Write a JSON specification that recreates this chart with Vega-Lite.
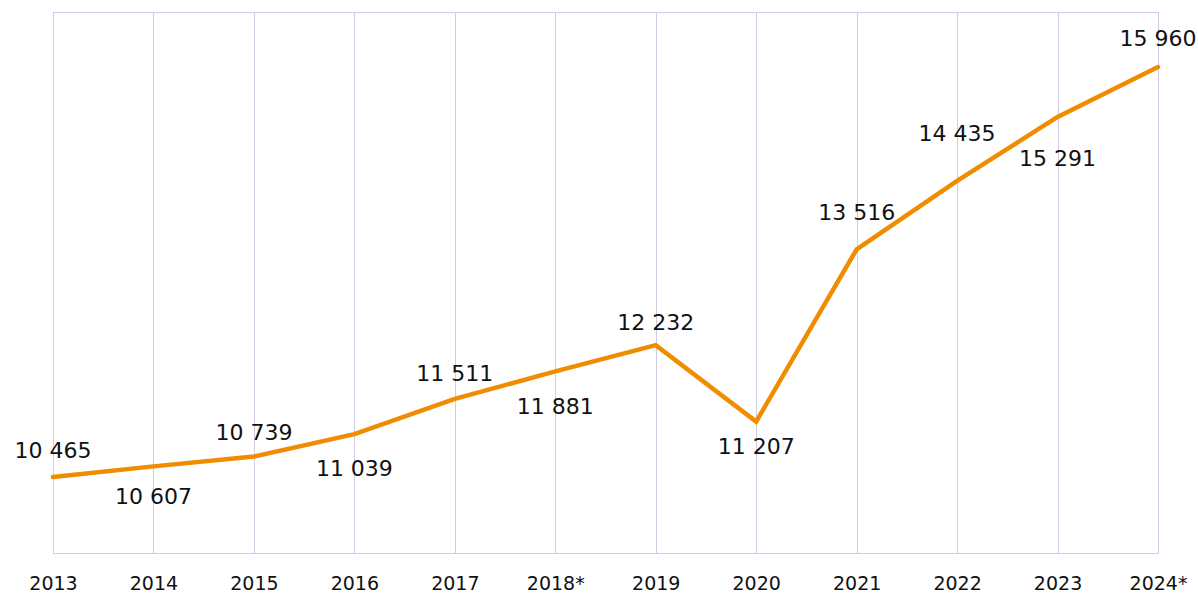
{
  "$schema": "https://vega.github.io/schema/vega-lite/v6.json",
  "width": 1105,
  "height": 541,
  "autosize": {"type": "none"},
  "padding": {"left": 53, "top": 12, "right": 40, "bottom": 42},
  "background": "#ffffff",
  "config": {
    "view": {"stroke": "#cfcbe6", "strokeWidth": 1},
    "font": "DejaVu Sans",
    "locale": {"number": {"decimal": ",", "thousands": " ", "grouping": [3], "currency": ["", ""]}}
  },
  "data": {
    "values": [
      {"year": "2013", "value": 10465},
      {"year": "2014", "value": 10607},
      {"year": "2015", "value": 10739},
      {"year": "2016", "value": 11039},
      {"year": "2017", "value": 11511},
      {"year": "2018*", "value": 11881},
      {"year": "2019", "value": 12232},
      {"year": "2020", "value": 11207},
      {"year": "2021", "value": 13516},
      {"year": "2022", "value": 14435},
      {"year": "2023", "value": 15291},
      {"year": "2024*", "value": 15960}
    ]
  },
  "encoding": {
    "x": {
      "field": "year",
      "type": "ordinal",
      "sort": null,
      "scale": {"type": "point", "padding": 0},
      "axis": {
        "title": null,
        "grid": true,
        "gridColor": "#cfcbe6",
        "gridWidth": 1,
        "domain": false,
        "ticks": false,
        "labelAngle": 0,
        "labelFontSize": 19,
        "labelColor": "#111111",
        "labelFont": "DejaVu Sans",
        "labelPadding": 21
      }
    },
    "y": {
      "field": "value",
      "type": "quantitative",
      "scale": {"domain": [9446, 16697], "zero": false, "nice": false},
      "axis": null
    }
  },
  "layer": [
    {
      "mark": {"type": "line", "color": "#f08c00", "strokeWidth": 4.5, "strokeJoin": "miter", "strokeCap": "round"}
    },
    {
      "mark": {
        "type": "text",
        "fontSize": 22,
        "color": "#111111",
        "align": "center",
        "baseline": "middle",
        "dy": {"expr": "datum.year == '2013' ? -26 : datum.year == '2014' ? 31 : datum.year == '2015' ? -24 : datum.year == '2016' ? 35 : datum.year == '2017' ? -25 : datum.year == '2018*' ? 36 : datum.year == '2019' ? -22 : datum.year == '2020' ? 25 : datum.year == '2021' ? -36 : datum.year == '2022' ? -47 : datum.year == '2023' ? 42 : -28"}
      },
      "encoding": {
        "text": {"field": "value", "type": "quantitative", "format": ",d"}
      }
    }
  ]
}
